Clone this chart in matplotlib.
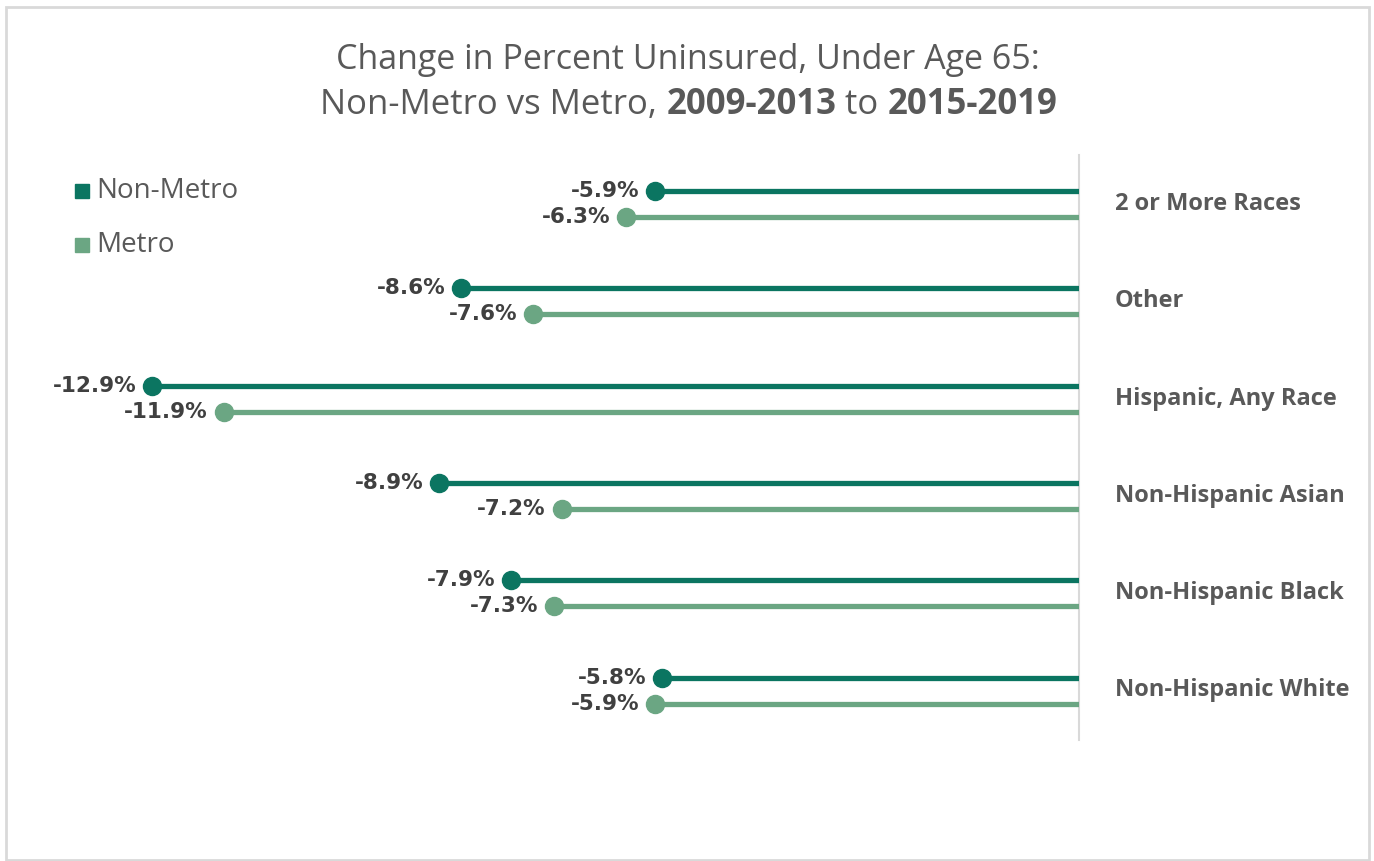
import matplotlib.pyplot as plt
from matplotlib.patches import Rectangle
import numpy as np

# data
groups = ["2 or More Races", "Other", "Hispanic, Any Race",
          "Non-Hispanic Asian", "Non-Hispanic Black", "Non-Hispanic White"]
non_metro = [-5.9, -8.6, -12.9, -8.9, -7.9, -5.8]
metro = [-6.3, -7.6, -11.9, -7.2, -7.3, -5.9]

dark = "#0B7561"
light = "#6BA683"
txt = "#404040"
grey = "#595959"
fam = "Open Sans"

W, H = 1374, 861
fig = plt.figure(figsize=(W / 100, H / 100), dpi=100)
fig.patch.set_facecolor("white")

# axes placed in pixels: right edge at the zero line
left_px, right_px, top_px, bot_px = 30, 1079, 155, 740
scale = (1079 - 152) / 12.9
ax = fig.add_axes([left_px / W, 1 - bot_px / H, (right_px - left_px) / W, (bot_px - top_px) / H])
ax.set_xlim(-(right_px - left_px) / scale, 0)
pitch = 97.3
ax.set_ylim((bot_px - 204) / pitch, (top_px - 204) / pitch)
ax.axis("off")

y = np.arange(len(groups))
off = 13 / pitch
ax.hlines(y - off, non_metro, 0, color=dark, lw=3.8, zorder=2)
ax.hlines(y + off, metro, 0, color=light, lw=3.8, zorder=2)
ax.plot(non_metro, y - off, "o", color=dark, ms=13, zorder=3)
ax.plot(metro, y + off, "o", color=light, ms=13, zorder=3)

for yi, v in zip(y - off, non_metro):
    ax.annotate(f"{v:.1f}%", (v, yi), xytext=(-11.5, 0), textcoords="offset points",
                ha="right", va="center", fontsize=15.5, fontweight="bold", color=txt,
                family="DejaVu Sans")
for yi, v in zip(y + off, metro):
    ax.annotate(f"{v:.1f}%", (v, yi), xytext=(-11.5, 0), textcoords="offset points",
                ha="right", va="center", fontsize=15.5, fontweight="bold", color=txt,
                family="DejaVu Sans")

for yi, g in zip(y, groups):
    ax.annotate(g, (0, yi), xytext=(26, 0), textcoords="offset points", annotation_clip=False,
                ha="left", va="center", fontsize=17, fontweight="bold", color=grey, family=fam)

# zero line
ax.axvline(0, color="#D9D9D9", lw=1.5, zorder=1, clip_on=False)

# legend
for i, (lab, c) in enumerate([("Non-Metro", dark), ("Metro", light)]):
    yc = 191 + i * 54
    fig.patches.append(Rectangle((75 / W, 1 - (yc + 7) / H), 14 / W, 14 / H,
                                 transform=fig.transFigure, color=c, figure=fig))
    fig.text(96 / W, 1 - yc / H, lab, ha="left", va="center", fontsize=20,
             color=grey, family=fam)

# title
fig.text(688 / W, 1 - 60 / H, "Change in Percent Uninsured, Under Age 65:",
         ha="center", va="center", fontsize=24.5, color=grey, family=fam)
parts = [("Non-Metro vs Metro, ", "normal"), ("2009-2013", "bold"),
         (" to ", "normal"), ("2015-2019", "bold")]
fig.canvas.draw()
r = fig.canvas.get_renderer()
objs = []
for s, wgt in parts:
    t = fig.text(0, 1 - 105 / H, s, ha="left", va="center", fontsize=25,
                 color=grey, family=fam, fontweight=wgt)
    objs.append(t)
widths = [t.get_window_extent(r).width for t in objs]
x0 = 689 - sum(widths) / 2
for t, wd in zip(objs, widths):
    t.set_x(x0 / W)
    x0 += wd

# outer border
fig.patches.append(Rectangle((6 / W, 1 / H), (1369 - 6) / W, (H - 8) / H,
                             transform=fig.transFigure, fill=False,
                             edgecolor="#D9D9D9", lw=2, figure=fig))

fig.savefig("out.png", dpi=100)
